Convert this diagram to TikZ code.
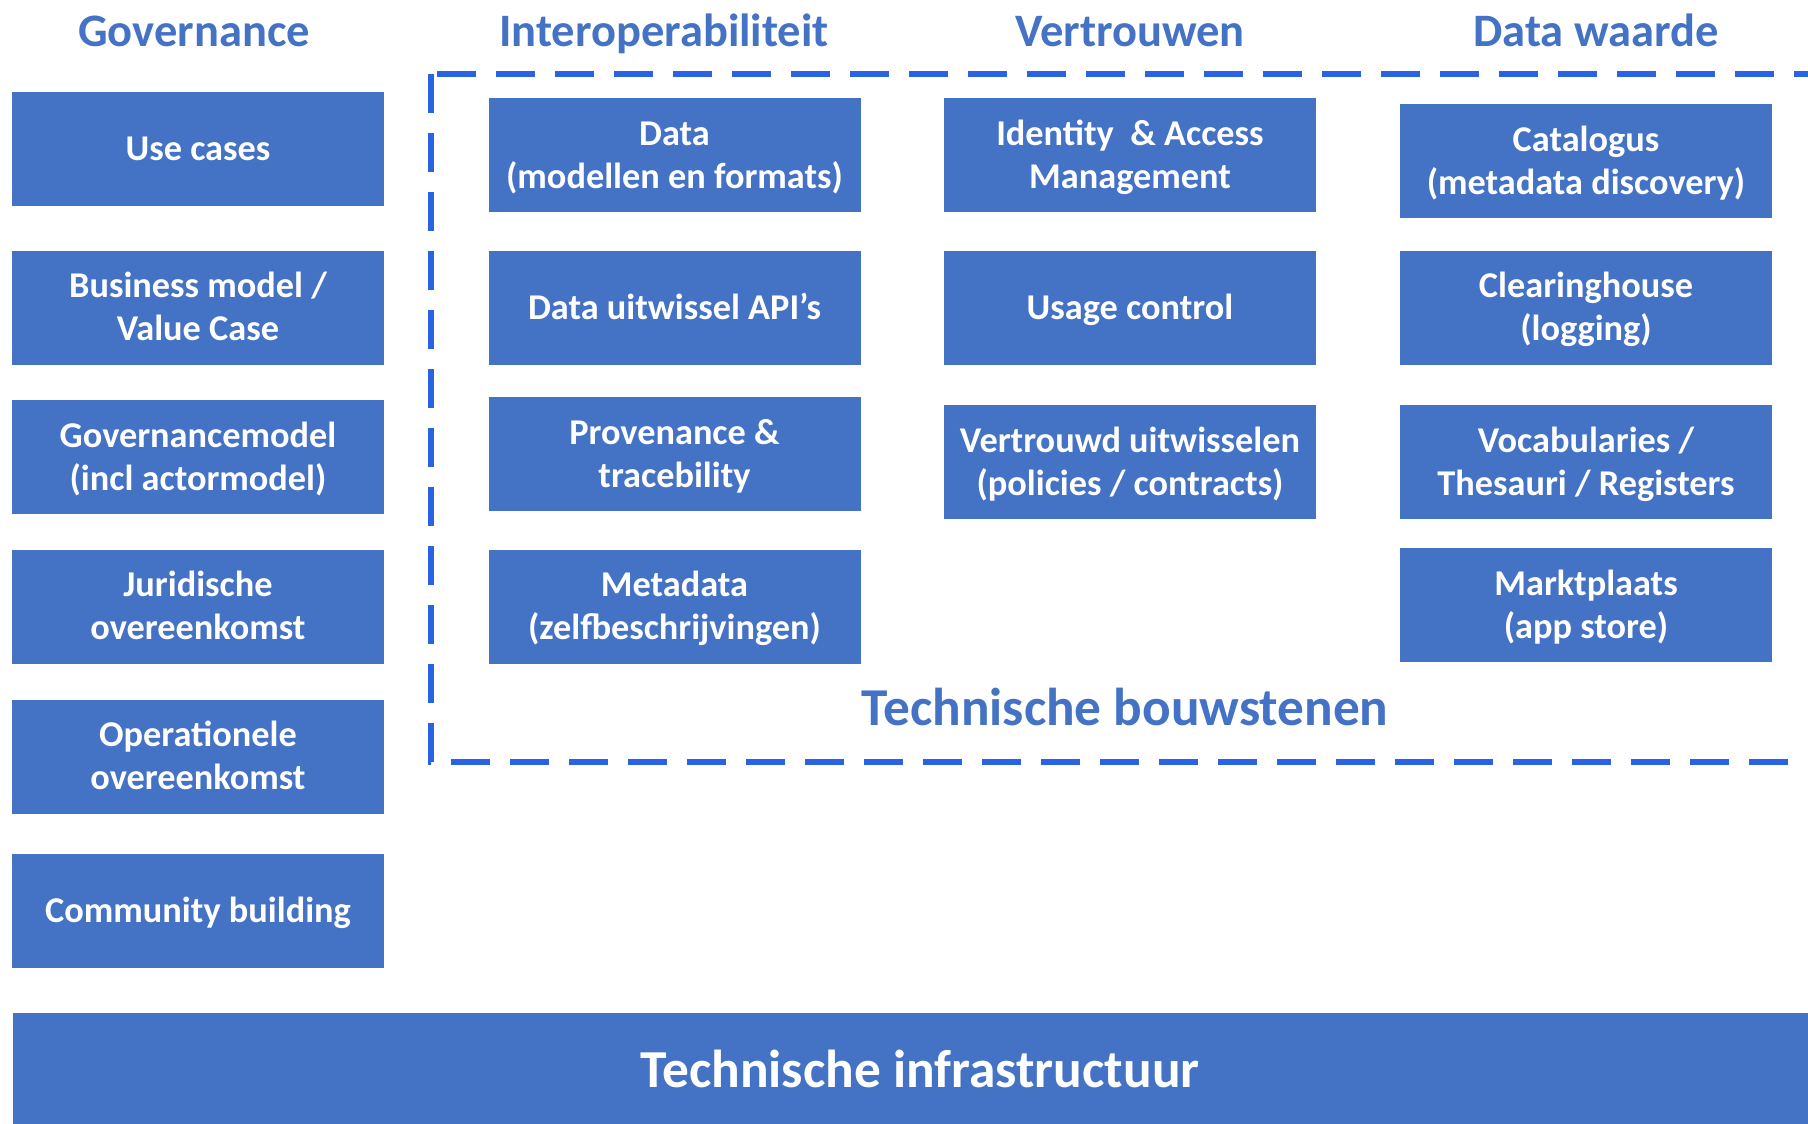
\documentclass[tikz,border=0pt]{standalone}
\usepackage{fontspec}
\setmainfont{Carlito}
\usetikzlibrary{positioning}
\definecolor{boxblue}{RGB}{68,114,196}
\definecolor{dashblue}{RGB}{41,98,226}
\tikzset{blok/.style={
    rectangle,
    fill=boxblue,
    text=white,
    minimum width=372pt,
    minimum height=114pt,
    inner sep=0pt,
    align=center,
    text height=33.4pt,
    text depth=10pt,
    font=\fontsize{36.3}{43}\selectfont\bfseries,
    % draw=white, % not needed
  }}
\tikzset{twee/.style={text height=76.4pt}}
\tikzset{kop/.style={
    anchor=base,
    text=boxblue,
    inner sep=0pt,
    font=\fontsize{46.5}{54}\selectfont\bfseries,
  }}
\tikzset{kader/.style={
    draw=dashblue,
    line width=6pt,
    dash pattern=on 39pt off 20pt,
  }}

\begin{document}
\begin{tikzpicture}[x=1pt, y=-1pt]
        \useasboundingbox (0,0) rectangle (1808,1124);

        % kolomkoppen
        \node (hgov) [kop] at (194,46.5) {Governance};
        \node (hint) [kop] at (664,46.5) {Interoperabiliteit};
        \node (hver) [kop] at (1130,46.5) {Vertrouwen};
        \node (hwaa) [kop] at (1596,46.5) {Data waarde};

        % governance
        \node (usecase) [blok] at (198,149) {Use cases};
        \node (bizmodel) [blok,twee] at (198,307.5) {Business model /\\ Value Case};
        \node (govmodel) [blok,twee] at (198,457) {Governancemodel\\ (incl actormodel)};
        \node (jurid) [blok,twee] at (198,606.5) {Juridische\\ overeenkomst};
        \node (operat) [blok,twee] at (198,756.5) {Operationele\\ overeenkomst};
        \node (community) [blok] at (198,910.5) {Community building};

        % technische bouwstenen
        \draw [kader] (431,74) rectangle (1860,762);

        \node (data) [blok,twee] at (674.5,155) {Data\\ (modellen en formats)};
        \node (api) [blok] at (674.5,307.5) {Data uitwissel API’s};
        \node (proven) [blok,twee] at (674.5,454) {Provenance \&\\ tracebility};
        \node (meta) [blok,twee] at (674.5,606.5) {Metadata\\ (zelfbeschrijvingen)};

        \node (iam) [blok,twee] at (1130,155) {Identity \ \& Access\\ Management};
        \node (usage) [blok] at (1130,307.5) {Usage control};
        \node (trust) [blok,twee] at (1130,462) {Vertrouwd uitwisselen\\ (policies / contracts)};

        \node (catalog) [blok,twee] at (1586,161) {Catalogus\\ (metadata discovery)};
        \node (clearing) [blok,twee] at (1586,307.5) {Clearinghouse\\ (logging)};
        \node (vocab) [blok,twee] at (1586,462) {Vocabularies /\\ Thesauri / Registers};
        \node (markt) [blok,twee] at (1586,605) {Marktplaats\\ (app store)};

        \node (bouwst) [kop, font=\fontsize{53.3}{64}\selectfont\bfseries] at (1125,725) {Technische bouwstenen};

        % infrastructuur
        \node (infra) [blok, minimum width=1814pt, text height=48.4pt, text depth=14pt,
          font=\fontsize{53.4}{62}\selectfont\bfseries] at (920,1070) {Technische infrastructuur};
      \end{tikzpicture}
\end{document}
